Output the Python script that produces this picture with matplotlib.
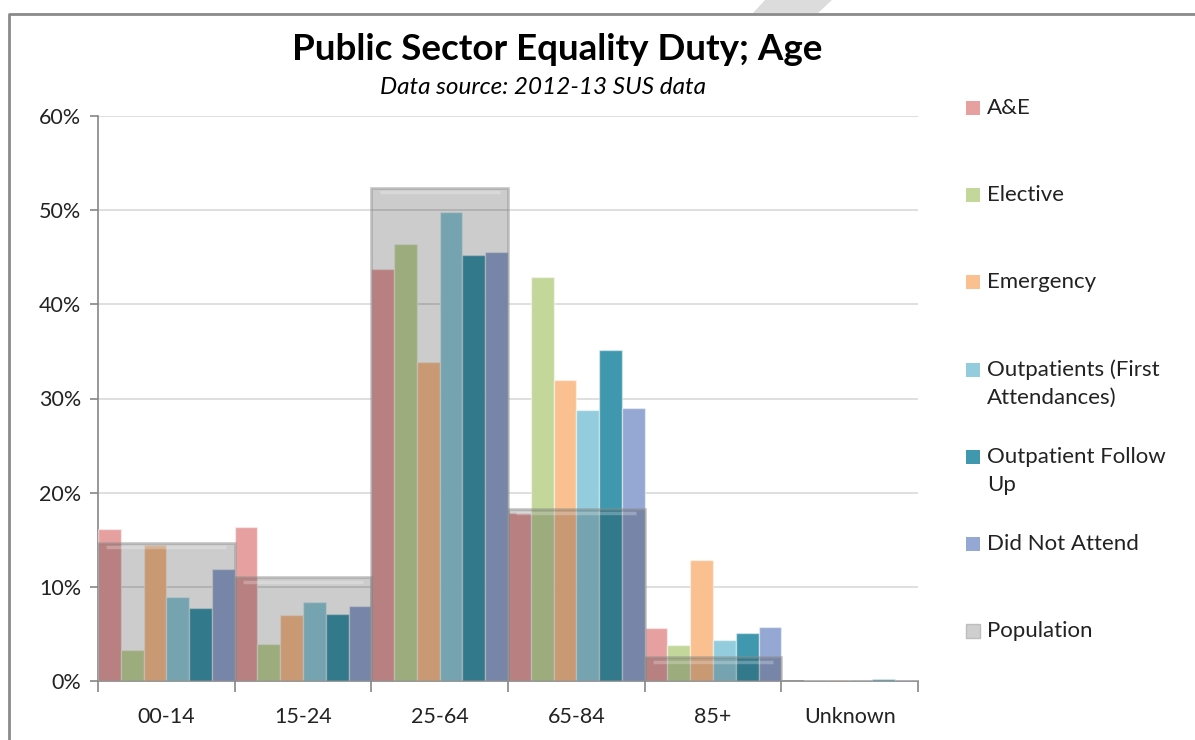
import matplotlib.pyplot as plt
from matplotlib.patches import Rectangle, Polygon
from matplotlib.ticker import PercentFormatter
import numpy as np

plt.rcParams['font.family'] = ['Lato', 'DejaVu Sans']

age_bands = ["00-14", "15-24", "25-64", "65-84", "85+", "Unknown"]

series_names = ["A&E", "Elective", "Emergency", "Outpatients (First\nAttendances)",
                "Outpatient Follow\nUp", "Did Not Attend"]
series_colors = ["#e6a0a0", "#c4d79b", "#fac090", "#93cddd", "#3f98ae", "#95a8d3"]

ae = [16.1, 16.4, 43.8, 17.8, 5.6, 0.0]
elective = [3.3, 3.9, 46.4, 42.9, 3.8, 0.15]
emergency = [14.4, 7.0, 33.9, 32.0, 12.9, 0.15]
op_first = [8.9, 8.4, 49.8, 28.8, 4.4, 0.15]
op_follow = [7.7, 7.1, 45.2, 35.2, 5.1, 0.2]
dna = [11.9, 8.0, 45.6, 29.0, 5.7, 0.15]
population = [14.7, 11.0, 52.4, 18.3, 2.5, 0.0]

series = [ae, elective, emergency, op_first, op_follow, dna]

fig = plt.figure(figsize=(11.95, 7.40), dpi=100)
ax = fig.add_axes([98 / 1195, 1 - 681 / 740, 820 / 1195, 565 / 740])

x = np.arange(len(age_bands))
w = 1 / len(series)
for j, (vals, col) in enumerate(zip(series, series_colors)):
    ax.bar(x + (j - 2.5) * w, vals, width=w, color=col,
           edgecolor=(1, 1, 1, 0.45), linewidth=1, zorder=2.6)

# population overlay: dark translucent block with a soft bevel on top
ax.bar(x, population, width=1.0, color=(0, 0, 0, 0.2),
       edgecolor=(0.55, 0.55, 0.55, 0.45), linewidth=2, zorder=3)
for xi, p in zip(x, population):
    if p > 0:
        ax.hlines(p - 0.45, xi - 0.44, xi + 0.44, color=(1, 1, 1, 0.25),
                  linewidth=2.5, zorder=4)

ax.set_xlim(-0.5, 5.5)
ax.set_ylim(0, 60)
ax.set_yticks(range(0, 61, 10))
ax.yaxis.set_major_formatter(PercentFormatter(decimals=0))
ax.set_xticks(x)
ax.set_xticklabels(age_bands)
ax.set_xticks(np.arange(-0.5, 6, 1), minor=True)
ax.tick_params(axis='x', which='major', length=0, pad=19, labelsize=15.5,
               labelcolor="#222222")
ax.tick_params(axis='x', which='minor', length=8, color="#868686", width=1.2)
ax.tick_params(axis='y', length=6, color="#868686", width=1.2, pad=6,
               labelsize=15.5, labelcolor="#222222")
ax.grid(axis='y', color="#d9d9d9", linewidth=1.2, zorder=0)
ax.set_axisbelow(True)
for side in ["top", "right"]:
    ax.spines[side].set_visible(False)
for side in ["left", "bottom"]:
    ax.spines[side].set_color("#868686")
    ax.spines[side].set_linewidth(1.2)

fig.text(557 / 1195, 1 - 50 / 740, "Public Sector Equality Duty; Age",
         ha="center", va="center", fontsize=26.5, fontweight="bold", color="black")
fig.text(543 / 1195, 1 - 88 / 740, "Data source: 2012-13 SUS data",
         ha="center", va="center", fontsize=17.5, style="italic", color="black")

# legend down the right-hand side
legend_names = series_names + ["Population"]
legend_colors = series_colors + ["#cfcfcf"]
for k, (name, col) in enumerate(zip(legend_names, legend_colors)):
    yc = 108 + 87.2 * k
    fig.patches.append(Rectangle((966 / 1195, 1 - (yc + 7) / 740), 14 / 1195, 14 / 740,
                                 transform=fig.transFigure, facecolor=col,
                                 edgecolor="#bdbdbd" if name == "Population" else "none",
                                 linewidth=1))
    fig.text(987 / 1195, 1 - (yc - 10) / 740, name, ha="left", va="top",
             fontsize=16, color="#222222", linespacing=1.5)

# outer chart frame and the grey stripe above it
fig.lines.append(plt.Line2D([9 / 1195, 9 / 1195, 1.0], [0.0, 1 - 14 / 740, 1 - 14 / 740],
                            transform=fig.transFigure, color="#8a8a8a", linewidth=2))
fig.patches.append(Polygon([(765 / 1195, 1.0), (832 / 1195, 1.0),
                            (818 / 1195, 1 - 13 / 740), (753 / 1195, 1 - 13 / 740)],
                           closed=True, transform=fig.transFigure,
                           facecolor="#dcdcdc", edgecolor="none"))

fig.savefig("out.png", dpi=100)
